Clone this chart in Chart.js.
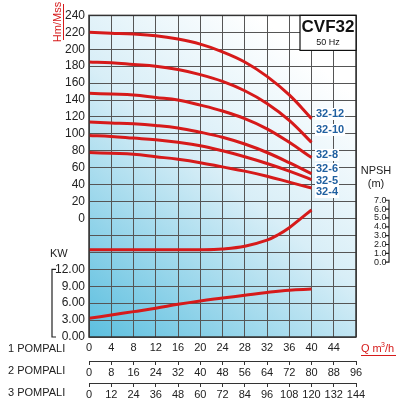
<!DOCTYPE html>
<html><head><meta charset="utf-8">
<script src="https://cdn.jsdelivr.net/npm/chart.js@4"></script>
<style>html,body{margin:0;padding:0;background:#fff}#w{width:400px;height:400px}</style>
</head><body><div id="w"><canvas id="c"></canvas></div>
<script>
const flow = [0,4,8,12,16,20,24,28,32,36,40];
const h3212 = [220,219,218,216,212,206,197,185,168,146,118];
const h3210 = [185,184,182,180,176,170,162,151,136,116,90];
const h328 = [148,147,146,143,140,134,127,118,106,90,72];
const h326 = [114,113,112,110,107,102,96,88,78,66,53];
const h325 = [98,97,95,93,90,86,80,73,65,56,46];
const h324 = [78,77,76,73,70,66,61,56,50,43,36];
const npshFlow = [0,8,16,20,24,28,32,34,36,38,40];
const npsh = [1.4,1.4,1.4,1.4,1.5,1.8,2.5,3.1,3.9,4.9,5.9];
const kw = [3.3,3.9,4.5,5.1,5.8,6.4,6.9,7.4,7.9,8.3,8.5];
const models = ['32-12','32-10','32-8','32-6','32-5','32-4'];
const kwTicks = {'-60':'12.00','-80':'9.00','-100':'6.00','-120':'3.00','-140':'0.00'};

const red = '#d61a1a';
const pts = (xs, ys, f) => xs.map((x,i)=>({x, y: f ? f(ys[i]) : ys[i]}));
const line = (data, axis) => ({data, yAxisID: axis||'y', borderColor: red, borderWidth: 3, pointRadius: 0, showLine: true, tension: 0.4, fill: false});
const heads = [h3212,h3210,h328,h326,h325,h324];

const deco = {
  id: 'deco',
  beforeDraw(ch){
    const {ctx, chartArea: a} = ch;
    const g = ctx.createLinearGradient(a.left, a.bottom, a.right, a.top);
    g.addColorStop(0, '#5cbfdf'); g.addColorStop(0.5, '#d8eef7'); g.addColorStop(0.85, '#ffffff');
    ctx.save(); ctx.fillStyle = g; ctx.fillRect(a.left, a.top, a.right-a.left, a.bottom-a.top); ctx.restore();
  },
  afterDraw(ch){
    const {ctx, chartArea: a, scales} = ch;
    ctx.save();
    ctx.strokeStyle = '#333'; ctx.lineWidth = 1.5;
    ctx.strokeRect(a.left, a.top, a.right-a.left, a.bottom-a.top);
    ctx.fillStyle = '#fff'; ctx.fillRect(a.right-56, a.top, 56, 35);
    ctx.strokeStyle = '#111'; ctx.lineWidth = 1.2; ctx.strokeRect(a.right-56, a.top, 56, 35);
    ctx.fillStyle = '#111'; ctx.textAlign = 'center'; ctx.textBaseline = 'middle';
    ctx.font = 'bold 17px "Liberation Sans"'; ctx.fillText('CVF32', a.right-28, a.top+12);
    ctx.font = '9px "Liberation Sans"'; ctx.fillText('50 Hz', a.right-28, a.top+27);
    const ys = [114,130,155,169,181,192];
    ctx.font = 'bold 11px "Liberation Sans"'; ctx.textAlign = 'left';
    models.forEach((m,i)=>{
      const w = ctx.measureText(m).width;
      ctx.fillStyle = '#fff'; ctx.fillRect(315, ys[i]-6, w+2, 12);
      ctx.fillStyle = '#1f5f9f'; ctx.fillText(m, 316, ys[i]);
    });
    ctx.save(); ctx.translate(58, 22); ctx.rotate(-Math.PI/2);
    ctx.fillStyle = red; ctx.font = '11px "Liberation Sans"'; ctx.textAlign = 'center';
    ctx.fillText('Hm/Mss', 0, 0);
    ctx.fillRect(-18, 5, 36, 1);
    ctx.restore();
    ctx.fillStyle = '#222'; ctx.font = '11px "Liberation Sans"'; ctx.textAlign = 'left';
    ctx.fillText('KW', 50, 254);
    const yS = scales.y;
    ctx.strokeStyle = '#222'; ctx.lineWidth = 1.2;
    ctx.beginPath(); ctx.moveTo(56, yS.getPixelForValue(-60)); ctx.lineTo(52, yS.getPixelForValue(-60));
    ctx.lineTo(52, yS.getPixelForValue(-140)); ctx.lineTo(56, yS.getPixelForValue(-140)); ctx.stroke();
    ctx.textAlign = 'center'; ctx.font = '11px "Liberation Sans"';
    ctx.fillText('NPSH', 376, 171); ctx.fillText('(m)', 376, 184);
    const n = scales.yN;
    ctx.beginPath(); ctx.moveTo(385, n.getPixelForValue(7)); ctx.lineTo(389, n.getPixelForValue(7));
    ctx.lineTo(389, n.getPixelForValue(0)); ctx.lineTo(385, n.getPixelForValue(0));
    for (let v=1; v<7; v++){ ctx.moveTo(385, n.getPixelForValue(v)); ctx.lineTo(389, n.getPixelForValue(v)); }
    ctx.stroke();
    ctx.textAlign = 'left'; ctx.fillStyle = '#222'; ctx.font = '11px "Liberation Sans"';
    ctx.fillText('1 POMPALI', 8, 349); ctx.fillText('2 POMPALI', 8, 371); ctx.fillText('3 POMPALI', 8, 393);
    ctx.fillStyle = red; ctx.fillText('Q m', 361, 349);
    ctx.font = '7px "Liberation Sans"'; ctx.fillText('3', 381, 345);
    ctx.font = '11px "Liberation Sans"'; ctx.fillText('/h', 385, 349);
    ctx.fillRect(361, 355, 35, 1);
    ctx.restore();
  }
};

const tickFont = {family: 'Liberation Sans', size: 11};
const tk = {autoSkip: false, maxRotation: 0, minRotation: 0, color: '#222', font: tickFont};
new Chart(document.getElementById('c'), {
  type: 'scatter',
  data: { datasets: [
    ...heads.map(h => line(pts(flow, h))),
    line(pts(npshFlow, npsh), 'yN'),
    line(pts(flow, kw, v => -140 + v*20/3))
  ]},
  options: {
    responsive: true, maintainAspectRatio: false, animation: false,
    layout: {padding: {top: 6, left: 0, right: 0, bottom: 0}},
    plugins: {legend: {display: false}, tooltip: {enabled: false}},
    scales: {
      x: {type: 'linear', min: 0, max: 48, position: 'bottom',
        ticks: {...tk, stepSize: 4, padding: 4, callback: v => v===48 ? '' : v},
        grid: {color: '#555', lineWidth: 1, tickLength: 0}, border: {display: false},
        afterFit: s => { s.height = 24; }},
      x2: {type: 'linear', min: 0, max: 96, position: 'bottom',
        ticks: {...tk, stepSize: 8, padding: 1},
        grid: {drawOnChartArea: false, color: '#333', tickLength: 4}, border: {display: true, color: '#333'},
        afterFit: s => { s.height = 22; }},
      x3: {type: 'linear', min: 0, max: 144, position: 'bottom',
        ticks: {...tk, stepSize: 12, padding: 1},
        grid: {drawOnChartArea: false, color: '#333', tickLength: 4}, border: {display: true, color: '#333'},
        afterFit: s => { s.height = 17; }},
      y: {type: 'linear', min: -140, max: 240, position: 'left',
        ticks: {...tk, stepSize: 20, padding: 4, font: {family: 'Liberation Sans', size: 12},
          callback: v => v >= 0 ? v : (kwTicks[String(v)] || '')},
        grid: {color: '#555', lineWidth: 1, tickLength: 0}, border: {display: false},
        afterFit: s => { s.width = 89; }},
      yN: {type: 'linear', position: 'right', min: -8.46, max: 27.9,
        afterBuildTicks: s => { s.ticks = [0,1,2,3,4,5,6,7].map(v => ({value: v})); },
        ticks: {...tk, font: {family: 'Liberation Sans', size: 9}, padding: 10, callback: v => v.toFixed(1)},
        grid: {display: false}, border: {display: false},
        afterFit: s => { s.width = 44; }}
    }
  },
  plugins: [deco]
});
</script></body></html>
